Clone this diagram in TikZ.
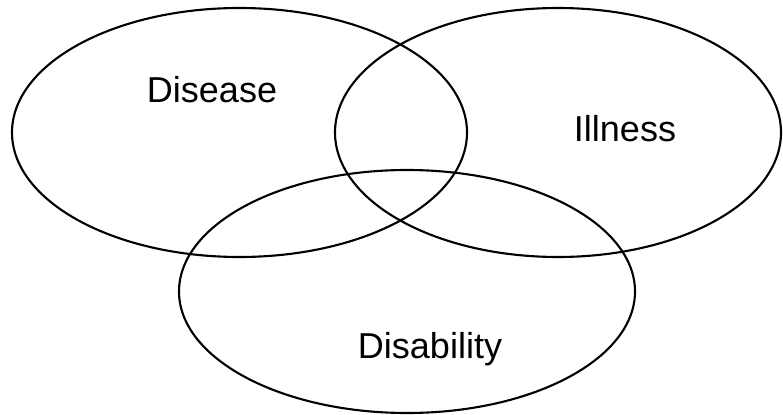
\documentclass[tikz,border=0pt]{standalone}
\usepackage{fontspec}
\setmainfont{Liberation Sans}
\begin{document}
\begin{tikzpicture}[x=0.02cm,y=-0.02cm]
\useasboundingbox (0,0) rectangle (783,415);
\coordinate (c1) at (239.5,132.5);
\coordinate (c2) at (558,132.5);
\coordinate (c3) at (407,291.5);
\draw [line width = 1.2pt] (c1) ellipse (227.5 and 124.5);
\draw [line width = 1.2pt] (c2) ellipse (223 and 124.5);
\draw [line width = 1.2pt] (c3) ellipse (228 and 121.5);
\node [font = \fontsize{20.5}{24}\selectfont, inner sep = 0] (t1) at (212,90) {Disease};
\node [font = \fontsize{20.5}{24}\selectfont, inner sep = 0] (t2) at (625,129) {Illness};
\node [font = \fontsize{20.5}{24}\selectfont, inner sep = 0, anchor = base] (t3) at (430,358) {Disability};
\end{tikzpicture}
\end{document}
